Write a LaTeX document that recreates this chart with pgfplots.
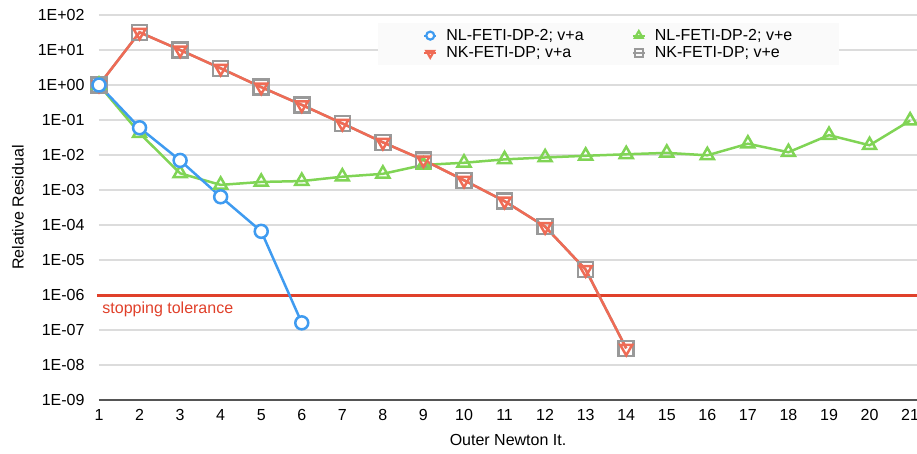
\documentclass[border=0pt]{standalone}
\usepackage{pgfplots}
\pgfplotsset{compat=1.18}
\usepackage{fontspec}
\setmainfont{Liberation Sans}
\definecolor{cblue}{HTML}{3F9BF0}
\definecolor{cred}{HTML}{EF6B55}
\definecolor{cgreen}{HTML}{80D455}
\definecolor{cgray}{HTML}{999999}
\definecolor{ctol}{HTML}{E0402A}
\definecolor{gridgray}{HTML}{DCDCDC}
\definecolor{axisgray}{HTML}{555555}
\definecolor{legbg}{HTML}{FAFAFA}
\begin{document}
\begin{tikzpicture}
\useasboundingbox (-99pt,-53pt) rectangle (818pt,400pt);
\begin{axis}[
  at={(0pt,0pt)}, anchor=south west,
  scale only axis, width=818pt, height=385pt,
  ymode=log, ymin=1e-9, ymax=1e2,
  xmin=1, xmax=21.17,
  xtick={1,2,...,21},
  ytick={1e-9,1e-8,1e-7,1e-6,1e-5,1e-4,1e-3,1e-2,1e-1,1,10,100},
  yticklabels={1E-09,1E-08,1E-07,1E-06,1E-05,1E-04,1E-03,1E-02,1E-01,1E+00,1E+01,1E+02},
  /pgf/number format/assume math mode=true,
  font=\fontsize{16}{18}\selectfont,
  ticklabel style={font=\fontsize{16}{18}\selectfont},
  yticklabel style={xshift=-11pt},
  xticklabel style={yshift=-6pt},
  major tick length=0pt, minor tick length=0pt,
  ymajorgrids, grid style={draw=gridgray, line width=1.3pt},
  separate axis lines,
  axis x line*=bottom, axis y line*=left,
  y axis line style={draw=none},
  x axis line style={draw=axisgray, line width=1.5pt},
  clip=false,
  xlabel={Outer Newton It.},
  ylabel={Relative Residual},
  xlabel style={at={(axis description cs:0.5,-0.104)}, anchor=center},
  ylabel style={at={(axis description cs:-0.099,0.5)}, anchor=center},
  legend columns=2,
  legend cell align=left,
  legend style={at={(axis description cs:0.341,0.979)}, anchor=north west,
    fill=legbg, draw=none, inner xsep=45pt, inner ysep=4pt,
    font=\fontsize{16}{18}\selectfont, row sep=1pt,
    /tikz/every odd column/.append style={column sep=7pt},
    /tikz/every even column/.append style={column sep=46pt}},
  legend image code/.code={\draw[mark repeat=2,mark phase=2] plot coordinates {(0pt,0pt)(6pt,0pt)(12pt,0pt)};},
]
% stopping tolerance
\addplot[ctol, line width=3pt, forget plot] coordinates {(0.95,1e-6) (21.17,1e-6)};
% NK-FETI-DP v+e (gray)
\addplot[cgray, line width=2.5pt, mark=square, mark size=7.5pt, mark options={fill=white, line width=2.5pt}, forget plot] coordinates {
(1,1.0)(2,32)(3,10)(4,3.0)(5,0.87)(6,0.27)(7,0.08)(8,0.023)(9,0.0072)(10,0.0019)(11,0.00048)(12,9e-5)(13,5.3e-6)(14,3e-8)};
% NL-FETI-DP-2 v+e (green)
\addplot[cgreen, line width=2.5pt, mark=triangle, mark size=7.5pt, mark options={fill=white, line width=2.5pt}, forget plot] coordinates {
(1,1.0)(2,0.042)(3,0.003)(4,0.0014)(5,0.0017)(6,0.0018)(7,0.0024)(8,0.0029)(9,0.0052)(10,0.006)(11,0.0075)(12,0.0085)(13,0.0095)(14,0.0105)(15,0.0115)(16,0.0098)(17,0.021)(18,0.012)(19,0.037)(20,0.019)(21,0.096)};
% NK-FETI-DP v+a (red)
\addplot[cred, line width=2.5pt, mark=triangle, mark size=7pt, mark options={rotate=180, fill=white, line width=2.5pt}, forget plot] coordinates {
(1,1.0)(2,32)(3,10)(4,3.0)(5,0.87)(6,0.27)(7,0.08)(8,0.023)(9,0.0072)(10,0.0019)(11,0.00048)(12,9e-5)(13,5.3e-6)(14,3e-8)};
% NL-FETI-DP-2 v+a (blue)
\addplot[cblue, line width=2.5pt, mark=*, mark size=6.5pt, mark options={fill=white, line width=2.5pt}, forget plot] coordinates {
(1,1.0)(2,0.06)(3,0.007)(4,6.4e-4)(5,6.6e-5)(6,1.6e-7)};
\node[anchor=west, text=ctol, inner sep=0pt, font=\fontsize{16}{18}\selectfont] at (axis cs:1.08,4.0e-7) {stopping tolerance};
% legend
\addlegendimage{cblue, line width=2.2pt, mark=*, mark size=4pt, mark options={fill=white}}
\addlegendentry{NL-FETI-DP-2; v+a}
\addlegendimage{cgreen, line width=2.2pt, mark=triangle, mark size=4.5pt, mark options={fill=white}}
\addlegendentry{NL-FETI-DP-2; v+e}
\addlegendimage{cred, line width=2.2pt, mark=triangle, mark size=4.5pt, mark options={rotate=180, fill=white}}
\addlegendentry{NK-FETI-DP; v+a}
\addlegendimage{cgray, line width=2.2pt, mark=square, mark size=4pt, mark options={fill=white}}
\addlegendentry{NK-FETI-DP; v+e}
\end{axis}
\end{tikzpicture}
\end{document}
